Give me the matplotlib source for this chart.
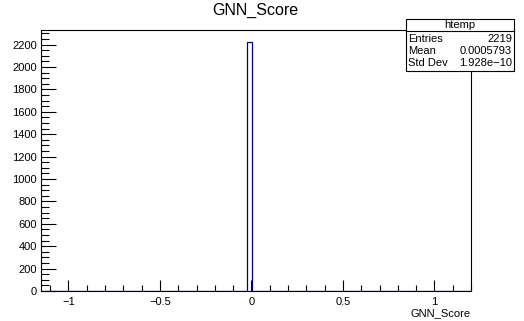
import numpy as np
import matplotlib
matplotlib.use('Agg')
import matplotlib.pyplot as plt
from matplotlib.patches import Rectangle
from matplotlib.lines import Line2D
from matplotlib.ticker import MultipleLocator

plt.rcParams['font.family'] = ['Liberation Sans', 'DejaVu Sans']

# histogram settings (htemp from TTree::Draw)
x_min = -1.15
x_max = 1.2
n_bins = 100
peak_bin = 48
peak_count = 2219

stat_names = ['Entries', 'Mean', 'Std Dev']
stat_values = ['2219', '0.0005793', '1.928e\u221210']

bin_edges = np.linspace(x_min, x_max, n_bins + 1)
counts = np.zeros(n_bins)
counts[peak_bin] = peak_count

W, H = 524, 321
fig = plt.figure(figsize=(W / 100, H / 100), dpi=100)
ax = fig.add_axes([41 / W, 1 - 291 / H, (471 - 41) / W, (291 - 30) / H])

ax.stairs(counts, bin_edges, color='#000099', linewidth=0.9, fill=False)

ax.set_xlim(x_min, x_max)
ax.set_ylim(0, 1.05 * peak_count)

ax.xaxis.set_major_locator(MultipleLocator(0.5))
ax.xaxis.set_minor_locator(MultipleLocator(0.1))
ax.yaxis.set_major_locator(MultipleLocator(200))
ax.yaxis.set_minor_locator(MultipleLocator(50))

ax.tick_params(axis='both', which='both', direction='in', width=0.8,
               labelsize=8, top=False, right=False)
ax.tick_params(axis='x', which='major', length=8, pad=4)
ax.tick_params(axis='x', which='minor', length=4)
ax.tick_params(axis='y', which='major', length=11, pad=3)
ax.tick_params(axis='y', which='minor', length=5.5)
for s in ax.spines.values():
    s.set_linewidth(0.8)

fmt = lambda v, p: ('%g' % v).replace('-', '\u2212')
ax.xaxis.set_major_formatter(matplotlib.ticker.FuncFormatter(fmt))

ax.set_xlabel('GNN_Score', fontsize=8, loc='right', labelpad=1)
fig.text(255 / W, 1 - 10 / H, 'GNN_Score', fontsize=11.5, ha='center', va='center')

# stats box
bx0, bx1, by0, by1 = 406, 514, 19, 71
fig.add_artist(Rectangle((bx0 / W, 1 - by1 / H), (bx1 - bx0) / W, (by1 - by0) / H,
                         transform=fig.transFigure, facecolor='white',
                         edgecolor='black', linewidth=0.8))
fig.add_artist(Line2D([bx0 / W, bx1 / W], [1 - 31 / H, 1 - 31 / H],
                      transform=fig.transFigure, color='black', linewidth=0.8))
fig.text((bx0 + bx1) / 2 / W, 1 - 25 / H, 'htemp', fontsize=8, ha='center', va='center')
for i, (n, v) in enumerate(zip(stat_names, stat_values)):
    yy = 1 - (38.5 + 12.5 * i) / H
    fig.text(408 / W, yy, n, fontsize=8, ha='left', va='center')
    fig.text(512 / W, yy, v, fontsize=8, ha='right', va='center')

fig.savefig('out.png', dpi=100)
